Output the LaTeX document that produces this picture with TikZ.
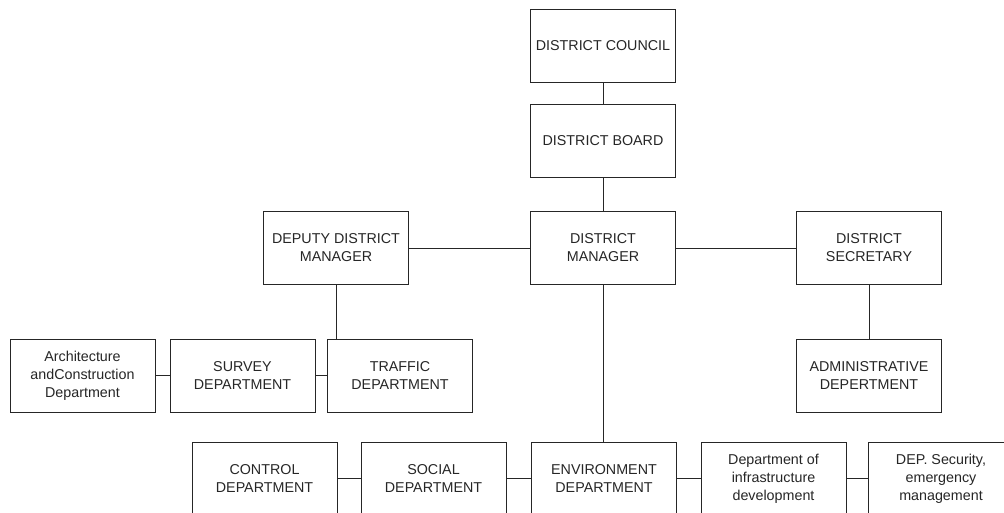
\documentclass[tikz,border=0pt]{standalone}
\usepackage{fontspec}
\setmainfont{Liberation Sans}
\begin{document}
\begin{tikzpicture}[x=1pt, y=-1pt,
  orgbox/.style={draw=black!85, line width=0.8pt, fill=white, minimum width=145pt,
    minimum height=73pt, inner sep=0pt, align=center, text=black!85,
    font=\fontsize{14.3}{18}\selectfont},
  link/.style={draw=black!85, line width=0.8pt}]
\useasboundingbox (0,0) rectangle (1004,512);
\clip (0,0) rectangle (1004,512);
\fill[white] (0,0) rectangle (1004,512);

% top of the hierarchy
\node[orgbox] (council) at (603,45.5) {DISTRICT COUNCIL};
\node[orgbox] (board)   at (603,141) {DISTRICT BOARD};
\node[orgbox] (dm)      at (603,248) {DISTRICT\\MANAGER};
\node[orgbox] (deputy)  at (336,248) {DEPUTY DISTRICT\\MANAGER};
\node[orgbox] (sec)     at (869,248) {DISTRICT\\SECRETARY};

% departments under the deputy and the secretary
\node[orgbox] (arch)    at (82.5,375.5) {Architecture\\andConstruction\\Department};
\node[orgbox] (survey)  at (242.5,375.5) {SURVEY\\DEPARTMENT};
\node[orgbox] (traffic) at (400,375.5) {TRAFFIC\\DEPARTMENT};
\node[orgbox] (admin)   at (869,375.5) {ADMINISTRATIVE\\DEPERTMENT};

% departments under the district manager
\node[orgbox] (control) at (264.5,478.5) {CONTROL\\DEPARTMENT};
\node[orgbox] (social)  at (433.5,478.5) {SOCIAL\\DEPARTMENT};
\node[orgbox] (env)     at (604,478.5) {ENVIRONMENT\\DEPARTMENT};
\node[orgbox] (infra)   at (773.5,478.5) {Department of\\infrastructure\\development};
\node[orgbox] (secur)   at (941,478.5) {DEP. Security,\\emergency\\management};

% connectors
\draw[link] (council) -- (board);
\draw[link] (board) -- (dm);
\draw[link] (deputy) -- (dm);
\draw[link] (dm) -- (sec);
\draw[link] (deputy.south) -- (deputy.south |- traffic.north);
\draw[link] (sec) -- (admin);
\draw[link] (dm.south) -- (dm.south |- env.north);
\draw[link] (arch) -- (survey);
\draw[link] (survey) -- (traffic);
\draw[link] (control) -- (social);
\draw[link] (social) -- (env);
\draw[link] (env) -- (infra);
\draw[link] (infra) -- (secur);
\end{tikzpicture}
\end{document}
